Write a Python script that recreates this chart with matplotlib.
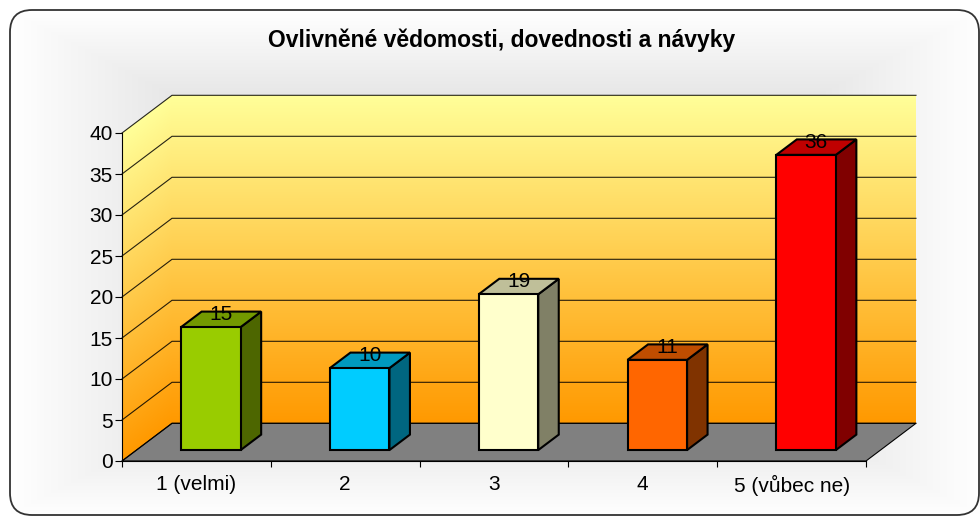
import numpy as np
import matplotlib
matplotlib.use("Agg")
import matplotlib.pyplot as plt
from matplotlib.patches import Polygon, FancyBboxPatch
from matplotlib.colors import to_rgb

plt.rcParams['font.family'] = ['Liberation Sans', 'DejaVu Sans']

# data
categories = ['1 (velmi)', '2', '3', '4', '5 (vůbec ne)']
values = [15, 10, 19, 11, 36]
bar_colors = ['#99CC00', '#00CCFF', '#FFFFCC', '#FF6600', '#FF0000']
title = 'Ovlivněné vědomosti, dovednosti a návyky'
yticks = list(range(0, 45, 5))

# layout (pixels of a 980x517 image)
FW, FH = 980, 517
X0, X1 = 122, 866        # front plane left/right
Y0, Y1 = 461, 133        # front plane y=0 / y=40 (from top)
DXP, DYP = 50, 37.7      # depth offset in pixels
YMAX = 40
n = len(categories)

sx = (X1 - X0) / n          # px per category
sy = (Y0 - Y1) / YMAX       # px per value unit
DX = DXP / sx
DY = DYP / sy
D0, D1 = 0.29, 0.70        # bar depth span
HW = 0.2                   # bar half width


def proj(x, y, d):
    return (x + d * DX, y + d * DY)


def main():
    fig = plt.figure(figsize=(FW / 100, FH / 100), dpi=100)
    fig.patch.set_facecolor('white')

    # big drawing axes covering the figure, same data scale as the front plane
    ax3 = fig.add_axes([0, 0, 1, 1])
    ax3.set_xlim(-X0 / sx, (FW - X0) / sx)
    ax3.set_ylim((Y0 - FH) / sy, Y0 / sy)
    ax3.axis('off')

    # chart area background: light grey towards centre, white at edges
    gx, gy = np.meshgrid(np.arange(FW), np.arange(FH))
    f = np.maximum(np.abs(gx - 495) / 485, np.abs(gy - 262) / 252)
    bg = np.clip(255 - 72 * (1 - f), 0, 255) / 255
    bgimg = np.dstack([bg, bg, bg])
    ax3.imshow(bgimg, extent=[*ax3.get_xlim(), ax3.get_ylim()[0], ax3.get_ylim()[1]],
               aspect='auto', zorder=0, origin='upper', interpolation='bilinear')

    top = np.array(to_rgb('#FFFF99'))
    bot = np.array(to_rgb('#FF9900'))

    # back wall gradient
    t = np.linspace(1, 0, 200)[:, None, None]
    grad = bot + (top - bot) * t
    grad = np.repeat(grad, 2, axis=1)
    ax3.imshow(grad, extent=[DX, n + DX, DY, YMAX + DY], aspect='auto',
               zorder=1, origin='upper')

    # side wall gradient, clipped to its polygon
    xs = np.linspace(0, DX, 60)
    ys = np.linspace(YMAX + DY, 0, 300)
    gxx, gyy = np.meshgrid(xs, ys)
    tt = np.clip((gyy - gxx / DX * DY) / YMAX, 0, 1)[:, :, None]
    sgrad = bot + (top - bot) * tt
    side_pts = [proj(0, 0, 0), proj(0, YMAX, 0), proj(0, YMAX, 1), proj(0, 0, 1)]
    side_poly = Polygon(side_pts, closed=True, transform=ax3.transData)
    im = ax3.imshow(sgrad, extent=[0, DX, 0, YMAX + DY], aspect='auto',
                    zorder=1, origin='upper')
    im.set_clip_path(side_poly)

    # floor
    floor_pts = [proj(0, 0, 0), proj(n, 0, 0), proj(n, 0, 1), proj(0, 0, 1)]
    ax3.add_patch(Polygon(floor_pts, closed=True, facecolor='#808080',
                          edgecolor='black', lw=0.8, zorder=2))

    # gridlines on side and back wall
    for v in yticks:
        p0 = proj(0, v, 0)
        p1 = proj(0, v, 1)
        p2 = proj(n, v, 1)
        ax3.plot([p0[0], p1[0], p2[0]], [p0[1], p1[1], p2[1]], color='black',
                 lw=0.8, alpha=0.85, zorder=3, solid_joinstyle='miter')

    # bars
    for i, (v, c) in enumerate(zip(values, bar_colors)):
        cx = i + 0.5
        base = np.array(to_rgb(c))
        front = [proj(cx - HW, 0, D0), proj(cx + HW, 0, D0),
                 proj(cx + HW, v, D0), proj(cx - HW, v, D0)]
        topf = [proj(cx - HW, v, D0), proj(cx + HW, v, D0),
                proj(cx + HW, v, D1), proj(cx - HW, v, D1)]
        side = [proj(cx + HW, 0, D0), proj(cx + HW, v, D0),
                proj(cx + HW, v, D1), proj(cx + HW, 0, D1)]
        for pts, col in [(side, base * 0.5), (topf, base * 0.75), (front, base)]:
            ax3.add_patch(Polygon(pts, closed=True, facecolor=col,
                                  edgecolor='black', lw=1.5, zorder=4,
                                  joinstyle='miter'))
        lx, ly = proj(cx, v, (D0 + D1) / 2)
        ax3.text(lx, ly - 0.1, str(v), ha='center', va='baseline',
                 fontsize=15, zorder=6)

    # front axes for spines and ticks
    L = X0 / FW
    B = (FH - Y0) / FH
    ax = fig.add_axes([L, B, (X1 - X0) / FW, (Y0 - Y1) / FH], facecolor='none')
    ax.set_xlim(0, n)
    ax.set_ylim(0, YMAX)
    for s in ['top', 'right']:
        ax.spines[s].set_visible(False)
    for s in ['left', 'bottom']:
        ax.spines[s].set_linewidth(0.8)
    ax.set_yticks(yticks)
    ax.set_yticklabels([str(v) for v in yticks], fontsize=15)
    ax.set_xticks(range(n + 1))
    ax.set_xticklabels([])
    ax.set_xticks(np.arange(n) + 0.5, minor=True)
    ax.set_xticklabels(categories, minor=True, fontsize=15)
    ax.tick_params(axis='y', direction='out', length=5, width=0.8, pad=1.5)
    ax.tick_params(axis='x', which='major', direction='out', length=4.5, width=0.8)
    ax.tick_params(axis='x', which='minor', length=0, pad=10)

    # title
    fig.text(502 / FW, 1 - 40 / FH, title, ha='center', va='center',
             fontsize=16.5, fontweight='bold')

    # rounded chart border
    border = FancyBboxPatch((0.10, 0.02), 9.69, 5.05,
                            boxstyle='round,pad=0,rounding_size=0.22',
                            transform=fig.dpi_scale_trans, facecolor='none',
                            edgecolor='#333333', lw=1.3)
    fig.add_artist(border)

    plt.savefig('out.png', dpi=100)


if __name__ == "__main__":
    main()
